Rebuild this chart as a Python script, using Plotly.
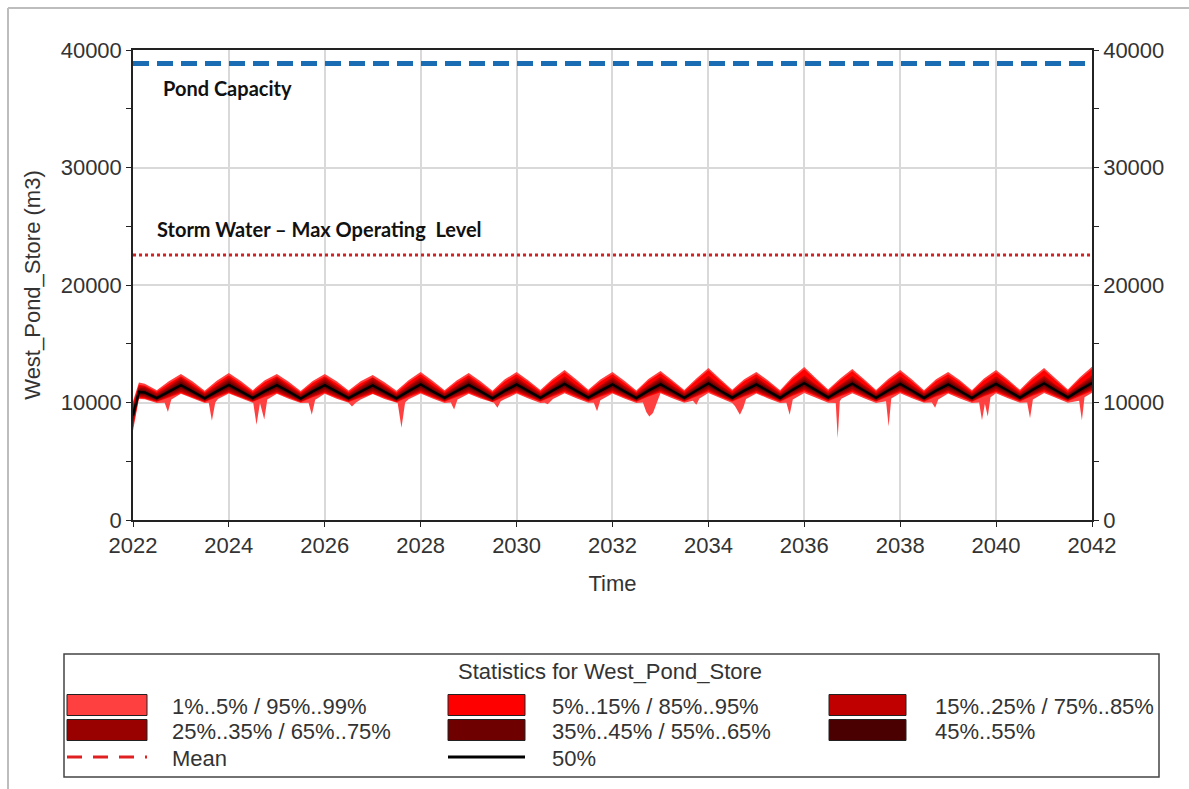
import plotly.graph_objects as go

# ---- data (m3) ----
# sample dates: start-up ramp in early 2022, then quarterly points (peaks ~Jan, troughs ~Jul)
dates = (["2022-01-01", "2022-02-15", "2022-04-01", "2022-07-01", "2022-10-01"]
         + [f"{y}-{m:02d}-01" for y in range(2023, 2042) for m in (1, 4, 7, 10)]
         + ["2042-01-01"])

p99 = [10100, 11700, 11600, 11050, 11800,
       12430, 11780, 11000, 11850,  12510, 11820, 11050, 11900,  12430, 11760, 10980, 11830,
       12430, 11800, 11020, 11800,  12340, 11720, 10990, 11900,  12600, 11850, 11050, 11880,
       12510, 11800, 11000, 11950,  12600, 11880, 11060, 12000,  12770, 11950, 11080, 11950,
       12600, 11850, 11020, 12000,  12680, 11900, 11060, 12050,  12940, 12000, 11080, 11980,
       12600, 11880, 11050, 12150,  13020, 12050, 11100, 12050,  12850, 11980, 11060, 12000,
       12770, 11950, 11050, 11980,  12600, 11900, 11040, 12050,  12770, 11960, 11080, 12100,
       12940, 12020, 11100, 12150,
       13050]
p95 = [9900, 11520, 11420, 10920, 11620,
       12230, 11600, 10870, 11670,  12310, 11640, 10920, 11720,  12230, 11580, 10850, 11650,
       12230, 11620, 10890, 11620,  12140, 11540, 10860, 11720,  12400, 11670, 10920, 11700,
       12310, 11620, 10870, 11770,  12400, 11700, 10930, 11820,  12570, 11770, 10950, 11770,
       12400, 11670, 10890, 11820,  12480, 11720, 10930, 11870,  12740, 11820, 10950, 11800,
       12400, 11700, 10920, 11970,  12820, 11870, 10970, 11870,  12650, 11800, 10930, 11820,
       12570, 11770, 10920, 11800,  12400, 11720, 10910, 11870,  12570, 11780, 10950, 11920,
       12740, 11840, 10970, 11970,
       12850]
p85 = [9600, 11380, 11330, 10780, 11410,
       12130, 11410, 10760, 11430,  12150, 11420, 10780, 11450,  12130, 11400, 10740, 11420,
       12130, 11410, 10770, 11410,  12100, 11380, 10750, 11450,  12180, 11430, 10790, 11450,
       12150, 11420, 10760, 11470,  12180, 11450, 10800, 11490,  12230, 11470, 10810, 11470,
       12180, 11430, 10780, 11490,  12200, 11460, 10800, 11500,  12270, 11480, 10810, 11490,
       12180, 11450, 10790, 11540,  12290, 11510, 10830, 11520,  12250, 11480, 10800, 11500,
       12230, 11480, 10790, 11490,  12180, 11460, 10780, 11520,  12230, 11480, 10810, 11530,
       12270, 11500, 10830, 11550,
       12310]
p75 = [9400, 11260, 11210, 10670, 11290,
       11950, 11290, 10650, 11310,  11970, 11300, 10670, 11330,  11950, 11280, 10630, 11300,
       11950, 11290, 10660, 11290,  11920, 11260, 10640, 11330,  12000, 11310, 10680, 11330,
       11970, 11300, 10650, 11350,  12000, 11330, 10690, 11370,  12050, 11350, 10700, 11350,
       12000, 11310, 10670, 11370,  12020, 11340, 10690, 11380,  12090, 11360, 10700, 11370,
       12000, 11330, 10680, 11420,  12110, 11390, 10720, 11400,  12070, 11360, 10690, 11380,
       12050, 11360, 10680, 11370,  12000, 11340, 10670, 11400,  12050, 11360, 10700, 11410,
       12090, 11380, 10720, 11430,
       12130]
p65 = [9200, 11120, 11070, 10560, 11150,
       11780, 11150, 10540, 11170,  11800, 11160, 10560, 11190,  11780, 11140, 10520, 11160,
       11780, 11150, 10550, 11150,  11750, 11120, 10530, 11190,  11830, 11170, 10570, 11190,
       11800, 11160, 10540, 11210,  11830, 11190, 10580, 11230,  11880, 11210, 10590, 11210,
       11830, 11170, 10560, 11230,  11850, 11200, 10580, 11240,  11920, 11220, 10590, 11230,
       11830, 11190, 10570, 11280,  11940, 11250, 10610, 11260,  11900, 11220, 10580, 11240,
       11880, 11220, 10570, 11230,  11830, 11200, 10560, 11260,  11880, 11220, 10590, 11270,
       11920, 11240, 10610, 11290,
       11960]
p55 = [9000, 10990, 10940, 10450, 11020,
       11600, 11020, 10430, 11040,  11620, 11030, 10450, 11060,  11600, 11010, 10410, 11030,
       11600, 11020, 10440, 11020,  11570, 10990, 10420, 11060,  11650, 11040, 10460, 11060,
       11620, 11030, 10430, 11080,  11650, 11060, 10470, 11100,  11700, 11080, 10480, 11080,
       11650, 11040, 10450, 11100,  11670, 11070, 10470, 11110,  11740, 11090, 10480, 11100,
       11650, 11060, 10460, 11150,  11760, 11120, 10500, 11130,  11720, 11090, 10470, 11110,
       11700, 11090, 10460, 11100,  11650, 11070, 10450, 11130,  11700, 11090, 10480, 11140,
       11740, 11110, 10500, 11160,
       11780]
p50 = [8900, 10900, 10850, 10380, 10930,
       11480, 10930, 10360, 10950,  11500, 10940, 10380, 10970,  11480, 10920, 10340, 10940,
       11480, 10930, 10370, 10930,  11450, 10900, 10350, 10970,  11530, 10950, 10390, 10970,
       11500, 10940, 10360, 10990,  11530, 10970, 10400, 11010,  11580, 10990, 10410, 10990,
       11530, 10950, 10380, 11010,  11550, 10980, 10400, 11020,  11620, 11000, 10410, 11010,
       11530, 10970, 10390, 11060,  11640, 11030, 10430, 11040,  11600, 11000, 10400, 11020,
       11580, 11000, 10390, 11010,  11530, 10980, 10380, 11040,  11580, 11000, 10410, 11050,
       11620, 11020, 10430, 11070,
       11660]
p45 = [8800, 10810, 10760, 10310, 10840,
       11370, 10840, 10290, 10860,  11390, 10850, 10310, 10880,  11370, 10830, 10270, 10850,
       11370, 10840, 10300, 10840,  11340, 10810, 10280, 10880,  11420, 10860, 10320, 10880,
       11390, 10850, 10290, 10900,  11420, 10880, 10330, 10920,  11470, 10900, 10340, 10900,
       11420, 10860, 10310, 10920,  11440, 10890, 10330, 10930,  11510, 10910, 10340, 10920,
       11420, 10880, 10320, 10970,  11530, 10940, 10360, 10950,  11490, 10910, 10330, 10930,
       11470, 10910, 10320, 10920,  11420, 10890, 10310, 10950,  11470, 10910, 10340, 10960,
       11510, 10930, 10360, 10980,
       11550]
p35 = [8600, 10690, 10640, 10230, 10720,
       11210, 10720, 10210, 10740,  11230, 10730, 10230, 10760,  11210, 10710, 10190, 10730,
       11210, 10720, 10220, 10720,  11180, 10690, 10200, 10760,  11260, 10740, 10240, 10760,
       11230, 10730, 10210, 10780,  11260, 10760, 10250, 10800,  11310, 10780, 10260, 10780,
       11260, 10740, 10230, 10800,  11280, 10770, 10250, 10810,  11350, 10790, 10260, 10800,
       11260, 10760, 10240, 10850,  11370, 10820, 10280, 10830,  11330, 10790, 10250, 10810,
       11310, 10790, 10240, 10800,  11260, 10770, 10230, 10830,  11310, 10790, 10260, 10840,
       11350, 10810, 10280, 10860,
       11390]
p25 = [8400, 10580, 10530, 10170, 10610,
       11060, 10610, 10150, 10630,  11080, 10620, 10170, 10650,  11060, 10600, 10130, 10620,
       11060, 10610, 10160, 10610,  11030, 10580, 10140, 10650,  11110, 10630, 10180, 10650,
       11080, 10620, 10150, 10670,  11110, 10650, 10190, 10690,  11160, 10670, 10200, 10670,
       11110, 10630, 10170, 10690,  11130, 10660, 10190, 10700,  11200, 10680, 10200, 10690,
       11110, 10650, 10180, 10740,  11220, 10710, 10220, 10720,  11180, 10680, 10190, 10700,
       11160, 10680, 10180, 10690,  11110, 10660, 10170, 10720,  11160, 10680, 10200, 10730,
       11200, 10700, 10220, 10750,
       11240]
p15 = [8150, 10480, 10430, 10110, 10510,
       10920, 10510, 10090, 10530,  10940, 10520, 10110, 10550,  10920, 10500, 10070, 10520,
       10920, 10510, 10100, 10510,  10890, 10480, 10080, 10550,  10970, 10530, 10120, 10550,
       10940, 10520, 10090, 10570,  10970, 10550, 10130, 10590,  11020, 10570, 10140, 10570,
       10970, 10530, 10110, 10590,  10990, 10560, 10130, 10600,  11060, 10580, 10140, 10590,
       10970, 10550, 10120, 10640,  11080, 10610, 10160, 10620,  11040, 10580, 10130, 10600,
       11020, 10580, 10120, 10590,  10970, 10560, 10110, 10620,  11020, 10580, 10140, 10630,
       11060, 10600, 10160, 10650,
       11100]
p5 = [7900, 10400, 10350, 10060, 10430,
      10800, 10430, 10040, 10450,  10820, 10440, 10060, 10470,  10800, 10420, 10020, 10440,
      10800, 10430, 10050, 10430,  10770, 10400, 10030, 10470,  10850, 10450, 10070, 10470,
      10820, 10440, 10040, 10490,  10850, 10470, 10080, 10510,  10900, 10490, 10090, 10490,
      10850, 10450, 10060, 10510,  10870, 10480, 10080, 10520,  10940, 10500, 10090, 10510,
      10850, 10470, 10070, 10560,  10960, 10530, 10110, 10540,  10920, 10500, 10080, 10520,
      10900, 10500, 10070, 10510,  10850, 10480, 10060, 10540,  10900, 10500, 10090, 10550,
      10940, 10520, 10110, 10570,
      10980]

# 1% line has its own dates so the short low-storage dips can be placed
p1_dates = ["2022-01-01", "2022-02-15", "2022-04-01", "2022-07-01", "2022-08-30", "2022-09-24", "2022-10-20",
            "2023-01-01", "2023-04-01", "2023-07-01", "2023-08-01", "2023-08-25", "2023-09-20", "2023-10-10",
            "2024-01-01", "2024-04-01", "2024-07-05", "2024-07-30", "2024-08-25", "2024-09-27", "2024-10-20",
            "2025-01-01", "2025-04-01", "2025-07-01", "2025-08-30", "2025-09-24", "2025-10-20",
            "2026-01-01", "2026-04-01", "2026-07-01", "2026-07-27", "2026-08-25", "2026-10-01",
            "2027-01-01", "2027-04-01", "2027-07-10", "2027-08-08", "2027-09-05", "2027-10-01",
            "2028-01-01", "2028-04-01", "2028-07-01", "2028-08-18", "2028-09-12", "2028-10-08",
            "2029-01-01", "2029-04-01", "2029-07-12", "2029-08-08", "2029-09-02", "2029-10-01",
            "2030-01-01", "2030-04-01", "2030-07-01", "2030-08-02", "2030-08-26", "2030-09-20", "2030-10-05",
            "2031-01-01", "2031-04-01", "2031-07-01", "2031-08-12", "2031-09-06", "2031-10-01",
            "2032-01-01", "2032-04-01", "2032-07-01", "2032-08-20", "2032-09-15", "2032-10-08", "2032-11-05", "2032-11-25",
            "2033-01-01", "2033-04-01", "2033-07-01", "2033-09-05", "2033-10-01", "2033-10-25",
            "2034-01-01", "2034-04-01", "2034-07-01", "2034-07-22", "2034-08-29", "2034-09-25", "2034-10-15",
            "2035-01-01", "2035-04-01", "2035-07-01", "2035-08-18", "2035-09-12", "2035-10-06",
            "2036-01-01", "2036-04-01", "2036-07-01", "2036-08-28", "2036-09-12", "2036-09-28", "2036-10-10",
            "2037-01-01", "2037-04-01", "2037-07-01", "2037-09-15", "2037-10-05", "2037-10-25",
            "2038-01-01", "2038-04-01", "2038-07-01", "2038-08-30", "2038-09-24", "2038-10-18",
            "2039-01-01", "2039-04-01", "2039-07-01", "2039-08-25", "2039-09-16", "2039-10-08", "2039-10-30", "2039-11-20",
            "2040-01-01", "2040-04-01", "2040-07-01", "2040-08-25", "2040-09-16", "2040-10-08",
            "2041-01-01", "2041-04-01", "2041-07-01", "2041-09-25", "2041-10-16", "2041-11-05",
            "2042-01-01"]
p1 = [7600, 10300, 10280, 9960, 9980, 9200, 10250,
      10740, 10320, 9960, 9980, 8450, 9990, 10300,
      10760, 10330, 9950, 8100, 9950, 8550, 10250,
      10740, 10310, 9960, 9980, 8950, 10230,
      10740, 10320, 9970, 9650, 9980, 10250,
      10720, 10300, 9960, 7850, 9990, 10270,
      10770, 10340, 9960, 9990, 9400, 10250,
      10750, 10330, 9970, 9550, 10100, 10270,
      10770, 10350, 9960, 9980, 9850, 10150, 10300,
      10790, 10360, 9970, 9980, 9250, 10200,
      10770, 10340, 9960, 9990, 9200, 8800, 9100, 9700,
      10780, 10360, 9970, 10150, 9800, 10350,
      10800, 10370, 9960, 9700, 8950, 9600, 10300,
      10770, 10350, 9960, 9980, 8950, 10250,
      10810, 10380, 9970, 9950, 6950, 10100, 10320,
      10790, 10360, 9960, 10100, 7950, 10350,
      10780, 10360, 9970, 9990, 9550, 10250,
      10770, 10350, 9960, 9990, 8500, 9900, 8800, 10450,
      10790, 10370, 9970, 9990, 8650, 10250,
      10800, 10380, 9980, 10150, 8500, 10450,
      10820]

pond_capacity = 38850
max_operating = 22550

band_labels = ["1%..5% / 95%..99%", "5%..15% / 85%..95%", "15%..25% / 75%..85%",
               "25%..35% / 65%..75%", "35%..45% / 55%..65%", "45%..55%"]
band_colors = ["#ff4040", "#ff0000", "#c00000", "#990000", "#6e0000", "#4a0000"]

for s in (p99, p95, p85, p75, p65, p55, p50, p45, p35, p25, p15, p5):
    assert len(s) == len(dates)
assert len(p1) == len(p1_dates)

FONT = "Liberation Sans, Arial, sans-serif"
W, H = 1189, 789
L, R, T, B = 133, 1092, 50, 520   # plot area in px


def px(x):
    return (x - L) / (R - L)


def py(y):
    return (B - y) / (B - T)


fig = go.Figure()

# nested bands, widest first
bands = [(p1_dates, p1, p99), (dates, p5, p95), (dates, p15, p85),
         (dates, p25, p75), (dates, p35, p65), (dates, p45, p55)]
for (lo_x, lo, hi), name, col in zip(bands, band_labels, band_colors):
    fig.add_trace(go.Scatter(x=dates + lo_x[::-1], y=hi + lo[::-1],
                             fill='toself', fillcolor=col, mode='lines',
                             line=dict(width=0), name=name, hoverinfo='skip',
                             showlegend=False))

fig.add_trace(go.Scatter(x=dates, y=p50, mode='lines', name='50%',
                         line=dict(color='black', width=2.5), showlegend=False))
# same series on the right-hand axis (invisible) so that axis gets drawn
fig.add_trace(go.Scatter(x=dates, y=p50, mode='lines', yaxis='y2', opacity=0,
                         line=dict(width=0), hoverinfo='skip', showlegend=False))

# reference levels
fig.add_hline(y=pond_capacity, line=dict(color='#1b6db3', width=5, dash='16px,8px'))
fig.add_hline(y=max_operating, line=dict(color='#d42222', width=3, dash='dot'))

fig.add_annotation(x=px(161), y=pond_capacity, xref='paper', yref='y', yshift=-24,
                   text="<b>Pond Capacity</b>", showarrow=False, xanchor='left', yanchor='middle',
                   font=dict(family="Lato, sans-serif", size=20, color='#111'))
fig.add_annotation(x=px(155), y=max_operating, xref='paper', yref='y', yshift=26,
                   text="<b>Storm Water – Max Operating  Level</b>", showarrow=False,
                   xanchor='left', yanchor='middle',
                   font=dict(family="Lato, sans-serif", size=20, color='#111'))

yax = dict(range=[0, 40000], dtick=10000, tickformat='d', ticks='outside', ticklen=5, tickcolor='#222',
           showline=True, linecolor='#222', linewidth=1.5,
           tickfont=dict(family=FONT, size=22, color='#333'),
           minor=dict(dtick=5000, ticks='outside', ticklen=5, tickcolor='#222', showgrid=False))

fig.update_layout(
    width=W, height=H, plot_bgcolor='white', paper_bgcolor='white',
    margin=dict(l=L, r=W - R, t=T, b=H - B, autoexpand=False),
    showlegend=False,
    xaxis=dict(type='date', range=['2022-01-01', '2042-01-01'], dtick='M24', tick0='2022-01-01',
               tickformat='%Y', ticks='outside', ticklen=5, tickcolor='#222',
               showline=True, mirror=True, linecolor='#222', linewidth=1.5,
               showgrid=True, gridcolor='#d9d9d9', gridwidth=1.5,
               tickfont=dict(family=FONT, size=22, color='#333'),
               title=dict(text='Time', font=dict(family=FONT, size=22, color='#333'), standoff=18)),
    yaxis=dict(**yax, showgrid=True, gridcolor='#d9d9d9', gridwidth=1.5,
               title=dict(text='West_Pond_Store (m3)', font=dict(family=FONT, size=22, color='#333'),
                          standoff=14)),
    yaxis2=dict(**yax, overlaying='y', side='right', showgrid=False),
)

# ---- legend box drawn below the plot ----
shapes = [dict(type='rect', xref='paper', yref='paper', x0=px(64), x1=px(1159), y0=py(654), y1=py(777),
               line=dict(color='#444', width=1.5), fillcolor='white', layer='below'),
          # outer frame of the picture (top and left edges)
          dict(type='line', xref='paper', yref='paper', x0=px(8), x1=px(1189), y0=py(8), y1=py(8),
               line=dict(color='#bdbdbd', width=2)),
          dict(type='line', xref='paper', yref='paper', x0=px(8), x1=px(8), y0=py(8), y1=py(789),
               line=dict(color='#bdbdbd', width=2))]
fig.add_annotation(x=px(610), y=py(671), xref='paper', yref='paper', showarrow=False, yanchor='middle',
                   text="Statistics for West_Pond_Store", font=dict(family=FONT, size=22, color='#333'))

col_sw = [(67, 147), (448, 525), (829, 906)]
col_tx = [170, 550, 933]
row_y = [705, 730]
for i, (lab, col) in enumerate(zip(band_labels, band_colors)):
    r, c = divmod(i, 3)
    x0, x1 = col_sw[c]
    yc = row_y[r]
    shapes.append(dict(type='rect', xref='paper', yref='paper', x0=px(x0), x1=px(x1),
                       y0=py(yc + 10.5), y1=py(yc - 10.5), fillcolor=col,
                       line=dict(color='#222', width=1)))
    fig.add_annotation(x=px(col_tx[c]), y=py(yc + 1), xref='paper', yref='paper', showarrow=False,
                       xanchor='left', yanchor='middle', text=lab,
                       font=dict(family=FONT, size=22, color='#333'))

# Mean (dashed red) and 50% (black) line keys
shapes.append(dict(type='line', xref='paper', yref='paper', x0=px(67), x1=px(147), y0=py(757), y1=py(757),
                   line=dict(color='#e02020', width=3, dash='15px,11px')))
shapes.append(dict(type='line', xref='paper', yref='paper', x0=px(448), x1=px(525), y0=py(757), y1=py(757),
                   line=dict(color='black', width=3)))
fig.add_annotation(x=px(170), y=py(758), xref='paper', yref='paper', showarrow=False, xanchor='left',
                   yanchor='middle', text="Mean", font=dict(family=FONT, size=22, color='#333'))
fig.add_annotation(x=px(550), y=py(758), xref='paper', yref='paper', showarrow=False, xanchor='left',
                   yanchor='middle', text="50%", font=dict(family=FONT, size=22, color='#333'))

fig.update_layout(shapes=list(fig.layout.shapes) + shapes)

# page body has an 8px default margin; drop it so the figure sits at the window origin
fig.write_html("out.html", config={'displayModeBar': False},
               post_script="document.body.style.margin='0';")
